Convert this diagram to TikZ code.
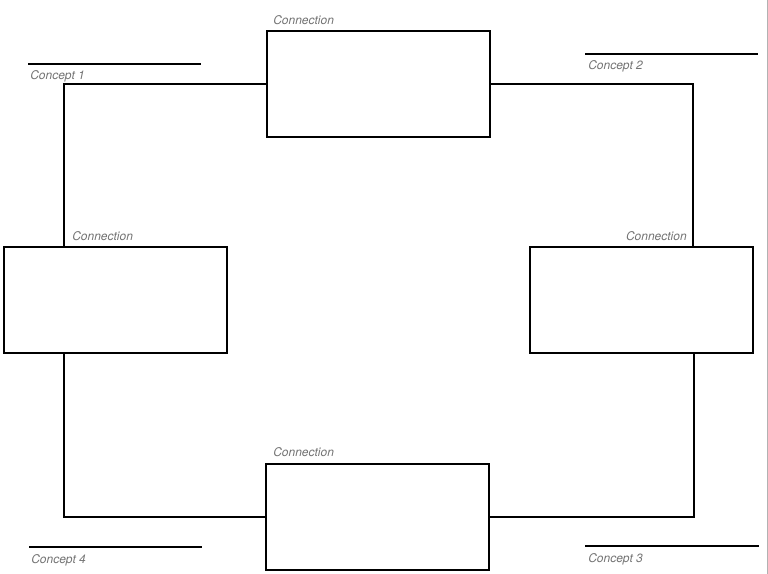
\documentclass[tikz,border=0pt]{standalone}
\usepackage{fontspec}
\setmainfont{TeX Gyre Heros}
\usetikzlibrary{calc,positioning}
\tikzstyle{cbox} = [draw, line width=1.5pt, rectangle,
    minimum width=167.25pt, minimum height=79.5pt, inner sep=0pt]
\tikzstyle{lbl} = [text=black!55, font=\itshape\fontsize{9}{10}\selectfont, inner sep=0pt]
\tikzstyle{link} = [line width=1.5pt]

\begin{document}
\begin{tikzpicture}[x=0.75pt, y=-0.75pt]
    \useasboundingbox (0,0) rectangle (768,574);
    \draw[black!30, line width=0.75pt] (767,0) -- (767,574);

    % the four connection boxes
    \node (topbox) [cbox] at (378.5,84) {};
    \node (leftbox) [cbox] at (115.5,300) {};
    \node (rightbox) [cbox] at (641.5,300) {};
    \node (botbox) [cbox] at (377.5,517) {};

    \node (lbl_top) [lbl, anchor=base west] at (273,25) {Connection};
    \node (lbl_left) [lbl, anchor=base west] at (72,241) {Connection};
    \node (lbl_right) [lbl, anchor=base east] at (687,241) {Connection};
    \node (lbl_bot) [lbl, anchor=base west] at (273,456) {Connection};

    % concepts
    \node (c1) [lbl, anchor=base west] at (30,80) {Concept 1};
    \node (c2) [lbl, anchor=base west] at (588,70) {Concept 2};
    \node (c3) [lbl, anchor=base west] at (588,562) {Concept 3};
    \node (c4) [lbl, anchor=base west] at (31,563) {Concept 4};
    \draw[link] (28,64) -- (201,64);
    \draw[link] (585,54) -- (758,54);
    \draw[link] (585,546) -- (759,546);
    \draw[link] (29,547) -- (202,547);

    \coordinate (leftbox_n) at ($(leftbox.north west)!.27!(leftbox.north east)$);
    \coordinate (leftbox_s) at ($(leftbox.south west)!.27!(leftbox.south east)$);
    \coordinate (rightbox_n) at ($(rightbox.north west)!.731!(rightbox.north east)$);
    \coordinate (rightbox_s) at ($(rightbox.south west)!.735!(rightbox.south east)$);

    \draw[link] (topbox.west) -| (leftbox_n);
    \draw[link] (topbox.east) -| (rightbox_n);
    \draw[link] (botbox.west) -| (leftbox_s);
    \draw[link] (botbox.east) -| (rightbox_s);
\end{tikzpicture}
\end{document}
